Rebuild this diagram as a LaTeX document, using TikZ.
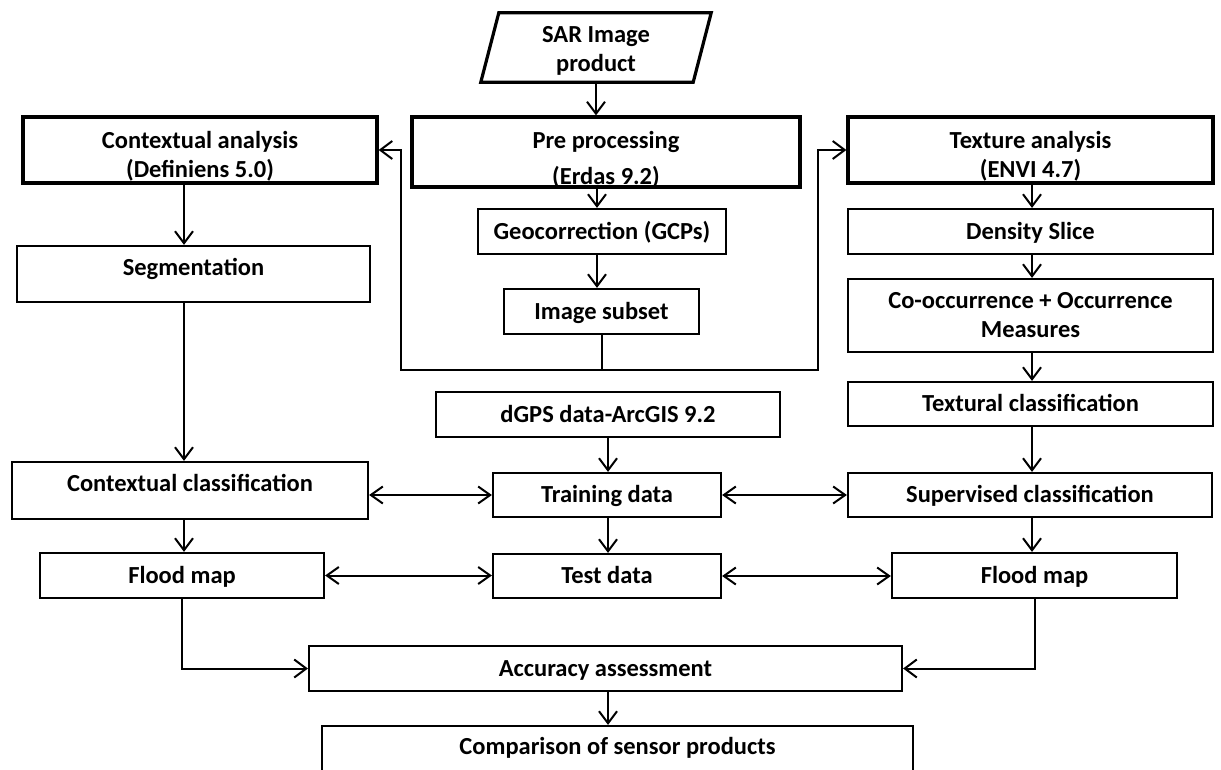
\documentclass[tikz,border=0pt]{standalone}
\usepackage{fontspec}
\setmainfont{Carlito}
\usetikzlibrary{arrows.meta}
\begin{document}
\begin{tikzpicture}[x=1pt,y=-1pt,
  font=\fontsize{24.5}{29}\selectfont\bfseries,
  box/.style={draw, line width=2.2pt, inner sep=0pt, align=center},
  thickbox/.style={box, line width=3.2pt},
  one/.style={text height=20pt, text depth=#1},
  one/.default=5pt,
  txt/.style={inner sep=0pt, align=center},
  thickline/.style={line width=3.2pt, line join=miter},
  arr/.style={line width=2pt, -{Straight Barb[length=12pt,width=18pt]}},
  darr/.style={line width=2pt, {Straight Barb[length=12pt,width=17pt]}-{Straight Barb[length=12pt,width=17pt]}}
]
\useasboundingbox (0,0) rectangle (1221,769);
\clip (0,0) rectangle (1221,769);
\fill[white] (0,0) rectangle (1221,769);

% column coordinates
\coordinate (colS) at (597,0);
\coordinate (colL) at (184,0);
\coordinate (colM) at (608,0);
\coordinate (colR) at (1032,0);
\coordinate (lb) at (401,370);
\coordinate (rb) at (818,370);

% SAR parallelogram
\node[inner sep=0pt, minimum width=212pt, minimum height=69pt] (sar) at (596,47.5) {};
\draw[thickline] ([xshift=9pt]sar.north west) -- ([xshift=9pt]sar.north east) -- ([xshift=-9pt]sar.south east) -- ([xshift=-9pt]sar.south west) -- cycle;
\node[txt] (sar-t) at (596,51) {SAR Image\\product};

% top row (thick)
\node[thickbox, minimum width=388pt, minimum height=70pt] (pre) at (606,152) {};
\node[txt] (pre-t) at (606,160) {Pre processing\\[7pt](Erdas 9.2)};
\node[thickbox, minimum width=354pt, minimum height=66pt] (ca) at (200,150) {};
\node[txt] (ca-t) at (200,156) {Contextual analysis\\(Definiens 5.0)};
\node[thickbox, minimum width=365pt, minimum height=66pt] (ta) at (1030.5,150) {};
\node[txt] (ta-t) at (1030.5,156.5) {Texture analysis\\(ENVI 4.7)};

% middle column
\node[box, one, minimum width=248pt, minimum height=45pt] (geo) at (602,231.5) {Geocorrection (GCPs)};
\node[box, one, minimum width=195pt, minimum height=45pt] (sub) at (601.5,311.5) {Image subset};
\node[box, one, minimum width=344pt, minimum height=45pt] (dgps) at (608,414.5) {dGPS data-ArcGIS 9.2};
\node[box, one, minimum width=228pt, minimum height=44pt] (tr) at (607,495) {Training data};
\node[box, one, minimum width=228pt, minimum height=44pt] (te) at (607,576) {Test data};
\node[box, one, minimum width=593pt, minimum height=45pt] (acc) at (605.5,668.5) {Accuracy assessment};
\node[box, one=37pt, minimum width=591pt, minimum height=74pt] (cmp) at (617.5,763) {Comparison of sensor products};

% left column
\node[box, one=17pt, minimum width=353pt, minimum height=56pt] (seg) at (193.5,274) {Segmentation};
\node[box, one=19pt, minimum width=356pt, minimum height=57pt] (cc) at (190,490.5) {Contextual classification};
\node[box, one, minimum width=284pt, minimum height=45pt] (fml) at (182,575.5) {Flood map};

% right column
\node[box, one, minimum width=365pt, minimum height=45pt] (den) at (1030.5,231.5) {Density Slice};
\node[box, minimum width=365pt, minimum height=73pt] (co) at (1030.5,315.5) {Co-occurrence + Occurrence\\Measures};
\node[box, one, minimum width=365pt, minimum height=44pt] (tex) at (1030.5,404) {Textural classification};
\node[box, one, minimum width=364pt, minimum height=44pt] (sup) at (1030,495) {Supervised classification};
\node[box, one, minimum width=285pt, minimum height=45pt] (fmr) at (1034.5,575.5) {Flood map};

% connectors: top
\draw[arr] (sar.south) -- (pre.north -| sar.south);
\draw[arr] (pre.south -| colS) -- (geo.north -| colS);
\draw[arr] (geo.south -| colS) -- (sub.north -| colS);
\draw[arr] (sub.south) |- (lb) |- (ca.east);
\draw[arr] (sub.south) |- (rb) |- (ta.west);

% left column
\draw[arr] (ca.south -| colL) -- (seg.north -| colL);
\draw[arr] (seg.south -| colL) -- (cc.north -| colL);
\draw[arr] (cc.south -| colL) -- (fml.north -| colL);
\draw[arr] (fml.south) |- (acc.west);

% middle column
\draw[arr] (dgps.south) -- (tr.north -| dgps.south);
\draw[arr] (tr.south -| colM) -- (te.north -| colM);
\draw[arr] (acc.south -| colM) -- (cmp.north -| colM);

% right column
\draw[arr] (ta.south -| colR) -- (den.north -| colR);
\draw[arr] (den.south -| colR) -- (co.north -| colR);
\draw[arr] (co.south -| colR) -- (tex.north -| colR);
\draw[arr] (tex.south -| colR) -- (sup.north -| colR);
\draw[arr] (sup.south -| colR) -- (fmr.north -| colR);
\draw[arr] (fmr.south) |- (acc.east);

% two-way arrows
\draw[darr] (tr.west -| cc.east) -- (tr.west);
\draw[darr] (tr.east) -- (sup.west);
\draw[darr] (fml.east) -- (fml.east -| te.west);
\draw[darr] (te.east) -- (te.east -| fmr.west);
\end{tikzpicture}
\end{document}
